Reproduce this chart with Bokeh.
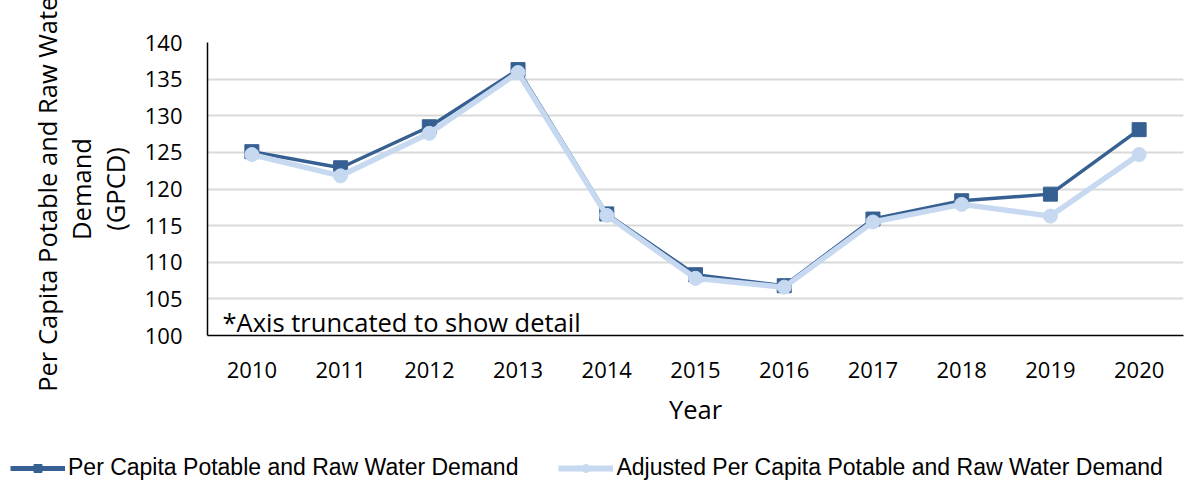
from bokeh.plotting import figure
from bokeh.layouts import column
from bokeh.models import Range1d, FixedTicker, Legend, LegendItem, Label
from bokeh.embed import file_html
from bokeh.resources import INLINE

# ---- data ----
years = [2010, 2011, 2012, 2013, 2014, 2015, 2016, 2017, 2018, 2019, 2020]
demand = [125.1, 122.9, 128.5, 136.3, 116.6, 108.3, 106.8, 115.9, 118.4, 119.3, 128.1]
adjusted = [124.7, 121.8, 127.6, 135.9, 116.4, 107.8, 106.6, 115.5, 117.9, 116.3, 124.7]
y_ticks = [100, 105, 110, 115, 120, 125, 130, 135, 140]
series_names = ["Per Capita Potable and Raw Water Demand",
                "Adjusted Per Capita Potable and Raw Water Demand"]
x_label = "Year"
y_label = "Per Capita Potable and Raw Water\nDemand\n(GPCD)"
note = "*Axis truncated to show detail"

DARK = "#376092"
LIGHT = "#C6D9F1"
FONT = "Open Sans"

W = 1198
H_MAIN = 448
H_LEG = 35

p = figure(width=W, height=H_MAIN, output_backend="svg", toolbar_location=None,
           x_range=Range1d(years[0] - 0.5, years[-1] + 0.5),
           y_range=Range1d(y_ticks[0], y_ticks[-1]),
           min_border_left=207, min_border_right=15, min_border_top=42,
           min_border_bottom=H_MAIN - 335)
p.frame_align = False
p.outline_line_color = None
p.border_fill_color = "white"

p.xgrid.grid_line_color = None
p.ygrid.ticker = FixedTicker(ticks=y_ticks)
p.ygrid.grid_line_color = "#D9D9D9"
p.ygrid.grid_line_width = 2

for ax in (p.xaxis[0], p.yaxis[0]):
    ax.axis_line_color = "black"
    ax.axis_line_width = 1.5
    ax.major_tick_line_color = None
    ax.minor_tick_line_color = None
    ax.major_label_text_font = FONT
    ax.major_label_text_font_size = "22px"
    ax.major_label_text_color = "black"
    ax.axis_label_text_font = FONT
    ax.axis_label_text_font_size = "25.5px"
    ax.axis_label_text_font_style = "normal"
    ax.axis_label_text_color = "black"

p.xaxis.ticker = FixedTicker(ticks=years)
p.yaxis.ticker = FixedTicker(ticks=y_ticks)
p.xaxis.major_label_standoff = 20
p.yaxis.major_label_standoff = 19
p.xaxis.axis_label = x_label
p.yaxis.axis_label = y_label
p.xaxis.axis_label_standoff = 11
p.yaxis.axis_label_standoff = 10
p.yaxis.axis_label_text_line_height = 1.0

p.line(years, demand, line_color=DARK, line_width=3.5)
p.scatter(years, demand, marker="square", size=14, fill_color=DARK, line_color=DARK)
p.line(years, adjusted, line_color=LIGHT, line_width=5.5)
p.scatter(years, adjusted, marker="circle", size=14, fill_color=LIGHT, line_color=LIGHT)

p.add_layout(Label(x=years[0] - 0.5, y=y_ticks[0] + 1.8, x_offset=15, text=note,
                   text_font=FONT, text_font_size="25.5px", text_color="black",
                   text_baseline="alphabetic"))

# ---- legend strip below the chart (series drawn off-range, only legend shows) ----
q = figure(width=W, height=H_LEG, output_backend="svg", toolbar_location=None,
           x_axis_type=None, y_axis_type=None,
           x_range=Range1d(0, 1), y_range=Range1d(0, 1),
           min_border=0, min_border_left=0, min_border_right=0,
           min_border_top=0, min_border_bottom=0)
q.frame_align = False
q.outline_line_color = None
q.xgrid.grid_line_color = None
q.ygrid.grid_line_color = None
k1 = q.line(years, demand, line_color=DARK, line_width=5)
m1 = q.scatter(years, demand, marker="square", size=16, fill_color=DARK, line_color=DARK)
k2 = q.line(years, adjusted, line_color=LIGHT, line_width=6)
m2 = q.scatter(years, adjusted, marker="circle", size=16, fill_color=LIGHT, line_color=LIGHT)

legend = Legend(items=[LegendItem(label=series_names[0], renderers=[k1, m1]),
                       LegendItem(label=series_names[1], renderers=[k2, m2])],
                orientation="horizontal", location=(10, 2),
                glyph_width=55, glyph_height=20, label_standoff=3, spacing=40,
                padding=0, margin=0, border_line_color=None, background_fill_alpha=0,
                label_text_font="Liberation Sans", label_text_font_size="23px",
                label_text_color="black")
q.add_layout(legend)

layout = column(p, q, spacing=0)
open("out.html", "w").write(file_html(layout, INLINE))
